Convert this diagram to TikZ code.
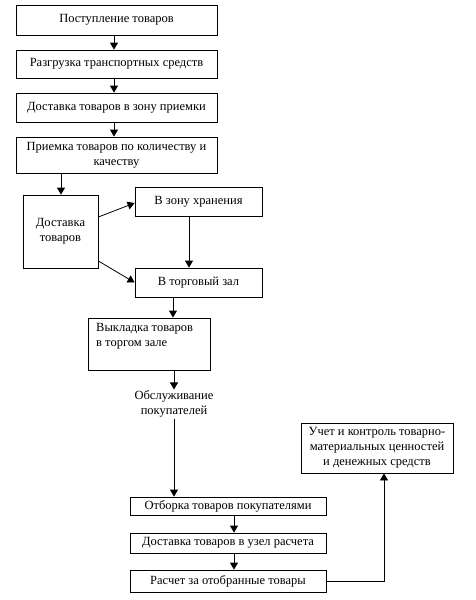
\documentclass[tikz,border=0pt]{standalone}
\usepackage{fontspec}
\setmainfont{Liberation Serif}
\usetikzlibrary{arrows.meta}
\begin{document}
\begin{tikzpicture}[x=1pt,y=-1pt,
  box/.style={draw,line width=0.8pt,inner sep=1pt,align=center,font=\fontsize{12.5}{15}\selectfont},
  plain/.style={inner sep=1pt,align=center,font=\fontsize{12.5}{15}\selectfont},
  arr/.style={line width=0.8pt,-{Triangle[length=7pt,width=8pt]}},
  ln/.style={line width=0.8pt}]
\useasboundingbox (0,0) rectangle (476,600);
\node[box,minimum width=201pt,minimum height=30pt] (b1) at (116.5,20) {Поступление товаров};
\node[box,minimum width=201pt,minimum height=28pt] (b2) at (116.5,64) {Разгрузка транспортных средств};
\node[box,minimum width=201pt,minimum height=29pt] (b3) at (116.5,107.5) {Доставка товаров в зону приемки};
\node[box,minimum width=201pt,minimum height=36pt] (b4) at (116.5,155) {Приемка товаров по количеству и\\качеству};
\node[box,minimum width=75pt,minimum height=73pt] (d) at (60.5,231.5) {Доставка\\товаров};
\node[box,minimum width=127pt,minimum height=29pt] (z) at (198.5,201.5) {В зону хранения};
\node[box,minimum width=127pt,minimum height=29pt] (t) at (198.5,282.5) {В торговый зал};
\node[draw,line width=0.8pt,minimum width=122pt,minimum height=52pt] (v) at (149,344) {};
\node[plain,anchor=north west,align=left] (vt) at (95,322) {Выкладка товаров\\в торгом зале};
\node[plain] (ob) at (174,404) {Обслуживание\\покупателей};
\node[box,minimum width=196pt,minimum height=18pt] (o) at (228,506) {Отборка товаров покупателями};
\node[box,minimum width=196pt,minimum height=20pt] (du) at (228,543) {Доставка товаров в узел расчета};
\node[box,minimum width=196pt,minimum height=22pt] (r) at (228,581) {Расчет за отобранные товары};
\node[box,minimum width=152pt,minimum height=50pt] (u) at (377,448) {Учет и контроль товарно-\\материальных ценностей\\и денежных средств};
\coordinate (xa) at (114,0);
\coordinate (xb) at (61,0);
\coordinate (xc) at (189,0);
\coordinate (xd) at (173,0);
\coordinate (xe) at (174,0);
\coordinate (xf) at (234,0);
\coordinate (xg) at (384,0);
\draw[arr] (b1.south -| xa) -- (b2.north -| xa);
\draw[arr] (b2.south -| xa) -- (b3.north -| xa);
\draw[arr] (b3.south -| xa) -- (b4.north -| xa);
\draw[arr] (b4.south -| xb) -- (d.north -| xb);
\draw[arr] ([yshift=14.5pt]d.east) -- ([yshift=-1.5pt]z.west);
\draw[arr] ([yshift=-29.5pt]d.east) -- (t.west);
\draw[arr] (z.south -| xc) -- (t.north -| xc);
\draw[arr] (t.south -| xd) -- (v.north -| xd);
\draw[arr] (v.south -| xe) -- (ob.north -| xe);
\draw[arr] (ob.south -| xe) -- (o.north -| xe);
\draw[arr] (o.south -| xf) -- (du.north -| xf);
\draw[arr] (du.south -| xf) -- (r.north -| xf);
\draw[arr] (r.east) -- (r.east -| xg) -- (u.south -| xg);
\end{tikzpicture}
\end{document}
